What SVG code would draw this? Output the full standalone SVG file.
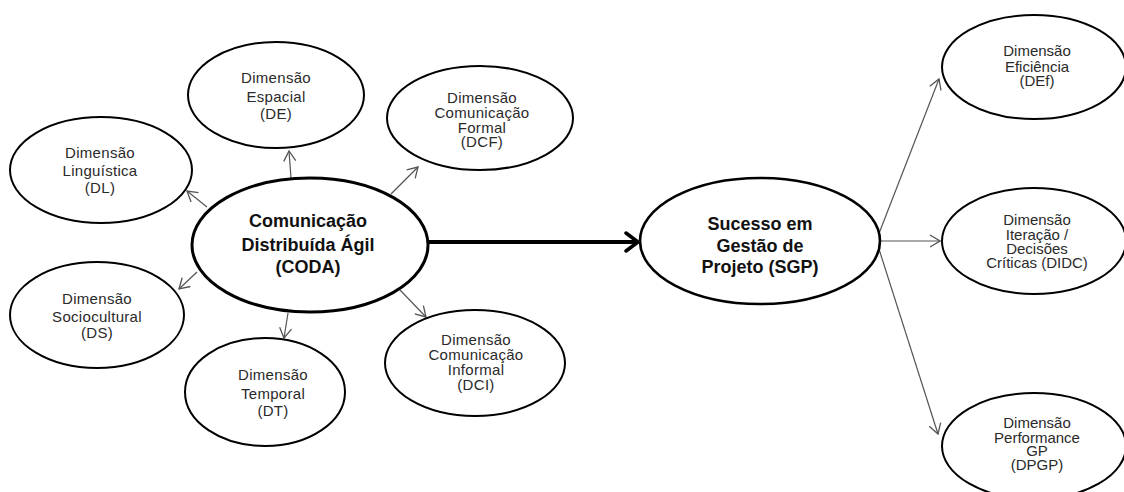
<svg xmlns="http://www.w3.org/2000/svg" width="1124" height="492" viewBox="0 0 1124 492">
  <style>
    .bg { fill: #ffffff; }
    .dim { fill: #ffffff; stroke: #000000; stroke-width: 2; }
    .core { fill: #ffffff; stroke: #000000; stroke-width: 3; }
    .lbl { font-family: "Liberation Sans", Arial, sans-serif; font-size: 15px; fill: #2a2a2a; text-anchor: middle; letter-spacing: 0.3px; }
    .lbl-b { font-family: "Liberation Sans", Arial, sans-serif; font-size: 18px; font-weight: bold; fill: #111111; text-anchor: middle; }
    .link { stroke: #555555; stroke-width: 1.2; fill: none; marker-end: url(#open); }
    .main { stroke: #000000; stroke-width: 4; fill: none; marker-end: url(#openBig); }
  </style>
  <defs>
    <marker id="open" markerUnits="userSpaceOnUse" viewBox="0 0 12 14" refX="11" refY="7" markerWidth="12" markerHeight="14" orient="auto">
      <path d="M1,1 L11,7 L1,13" fill="none" stroke="#555555" stroke-width="1.3"/>
    </marker>
    <marker id="openBig" markerUnits="userSpaceOnUse" viewBox="0 0 16 22" refX="14" refY="11" markerWidth="16" markerHeight="22" orient="auto">
      <path d="M2,2 L14,11 L2,20" fill="none" stroke="#000000" stroke-width="3.5" stroke-linecap="round"/>
    </marker>
  </defs>

  <rect class="bg" x="0" y="0" width="1124" height="492"/>

  <!-- connectors -->
  <g id="connectors">
    <line class="link" x1="291" y1="178" x2="289" y2="151"/>
    <line class="link" x1="207" y1="207" x2="187" y2="191"/>
    <line class="link" x1="391" y1="194" x2="418" y2="167"/>
    <line class="link" x1="197" y1="272" x2="179" y2="289"/>
    <line class="link" x1="288" y1="313" x2="284" y2="338"/>
    <line class="link" x1="400" y1="290" x2="426" y2="317"/>
    <line class="main" x1="428" y1="242" x2="638" y2="242"/>
    <line class="link" x1="878" y1="236" x2="939" y2="79"/>
    <line class="link" x1="880" y1="241" x2="940" y2="241"/>
    <line class="link" x1="878" y1="246" x2="938" y2="434"/>
  </g>

  <!-- central construct -->
  <g id="coda">
    <ellipse class="core" cx="310" cy="245" rx="118" ry="67"/>
    <text class="lbl-b" x="308" y="227">Comunicação</text>
    <text class="lbl-b" x="308" y="251">Distribuída Ágil</text>
    <text class="lbl-b" x="308" y="273">(CODA)</text>
  </g>

  <g id="sgp">
    <ellipse class="core" cx="760" cy="241" rx="120" ry="63" style="stroke-width:2.6"/>
    <text class="lbl-b" x="760" y="230">Sucesso em</text>
    <text class="lbl-b" x="760" y="252">Gestão de</text>
    <text class="lbl-b" x="760" y="273">Projeto (SGP)</text>
  </g>

  <!-- CODA dimensions -->
  <g id="de">
    <ellipse class="dim" cx="276" cy="95" rx="88" ry="53"/>
    <text class="lbl" x="276" y="83">Dimensão</text>
    <text class="lbl" x="276" y="102">Espacial</text>
    <text class="lbl" x="276" y="119">(DE)</text>
  </g>

  <g id="dl">
    <ellipse class="dim" cx="101" cy="170" rx="91" ry="53"/>
    <text class="lbl" x="100" y="158">Dimensão</text>
    <text class="lbl" x="100" y="176">Linguística</text>
    <text class="lbl" x="100" y="193">(DL)</text>
  </g>

  <g id="dcf">
    <ellipse class="dim" cx="480" cy="118" rx="93" ry="52"/>
    <text class="lbl" x="482" y="103">Dimensão</text>
    <text class="lbl" x="482" y="118">Comunicação</text>
    <text class="lbl" x="482" y="133">Formal</text>
    <text class="lbl" x="482" y="147">(DCF)</text>
  </g>

  <g id="ds">
    <ellipse class="dim" cx="97" cy="315" rx="87" ry="53"/>
    <text class="lbl" x="97" y="304">Dimensão</text>
    <text class="lbl" x="97" y="322">Sociocultural</text>
    <text class="lbl" x="97" y="338">(DS)</text>
  </g>

  <g id="dt">
    <ellipse class="dim" cx="265" cy="392" rx="80" ry="54"/>
    <text class="lbl" x="273" y="380">Dimensão</text>
    <text class="lbl" x="273" y="399">Temporal</text>
    <text class="lbl" x="273" y="416">(DT)</text>
  </g>

  <g id="dci">
    <ellipse class="dim" cx="475" cy="363" rx="90" ry="53"/>
    <text class="lbl" x="476" y="345">Dimensão</text>
    <text class="lbl" x="476" y="360">Comunicação</text>
    <text class="lbl" x="476" y="375">Informal</text>
    <text class="lbl" x="476" y="390">(DCI)</text>
  </g>

  <!-- SGP dimensions -->
  <g id="def">
    <ellipse class="dim" cx="1034" cy="67" rx="92" ry="52"/>
    <text class="lbl" x="1037" y="56" style="letter-spacing:0">Dimensão</text>
    <text class="lbl" x="1037" y="72" style="letter-spacing:0">Eficiência</text>
    <text class="lbl" x="1037" y="86" style="letter-spacing:0">(DEf)</text>
  </g>

  <g id="didc">
    <ellipse class="dim" cx="1034" cy="241" rx="92" ry="53"/>
    <text class="lbl" x="1037" y="225" style="letter-spacing:0">Dimensão</text>
    <text class="lbl" x="1037" y="240" style="letter-spacing:0">Iteração /</text>
    <text class="lbl" x="1037" y="254" style="letter-spacing:0">Decisões</text>
    <text class="lbl" x="1037" y="268" style="letter-spacing:0">Críticas (DIDC)</text>
  </g>

  <g id="dpgp">
    <ellipse class="dim" cx="1034" cy="446" rx="92" ry="53"/>
    <text class="lbl" x="1037" y="428" style="letter-spacing:0">Dimensão</text>
    <text class="lbl" x="1037" y="443" style="letter-spacing:0">Performance</text>
    <text class="lbl" x="1037" y="456" style="letter-spacing:0">GP</text>
    <text class="lbl" x="1037" y="470" style="letter-spacing:0">(DPGP)</text>
  </g>
</svg>
